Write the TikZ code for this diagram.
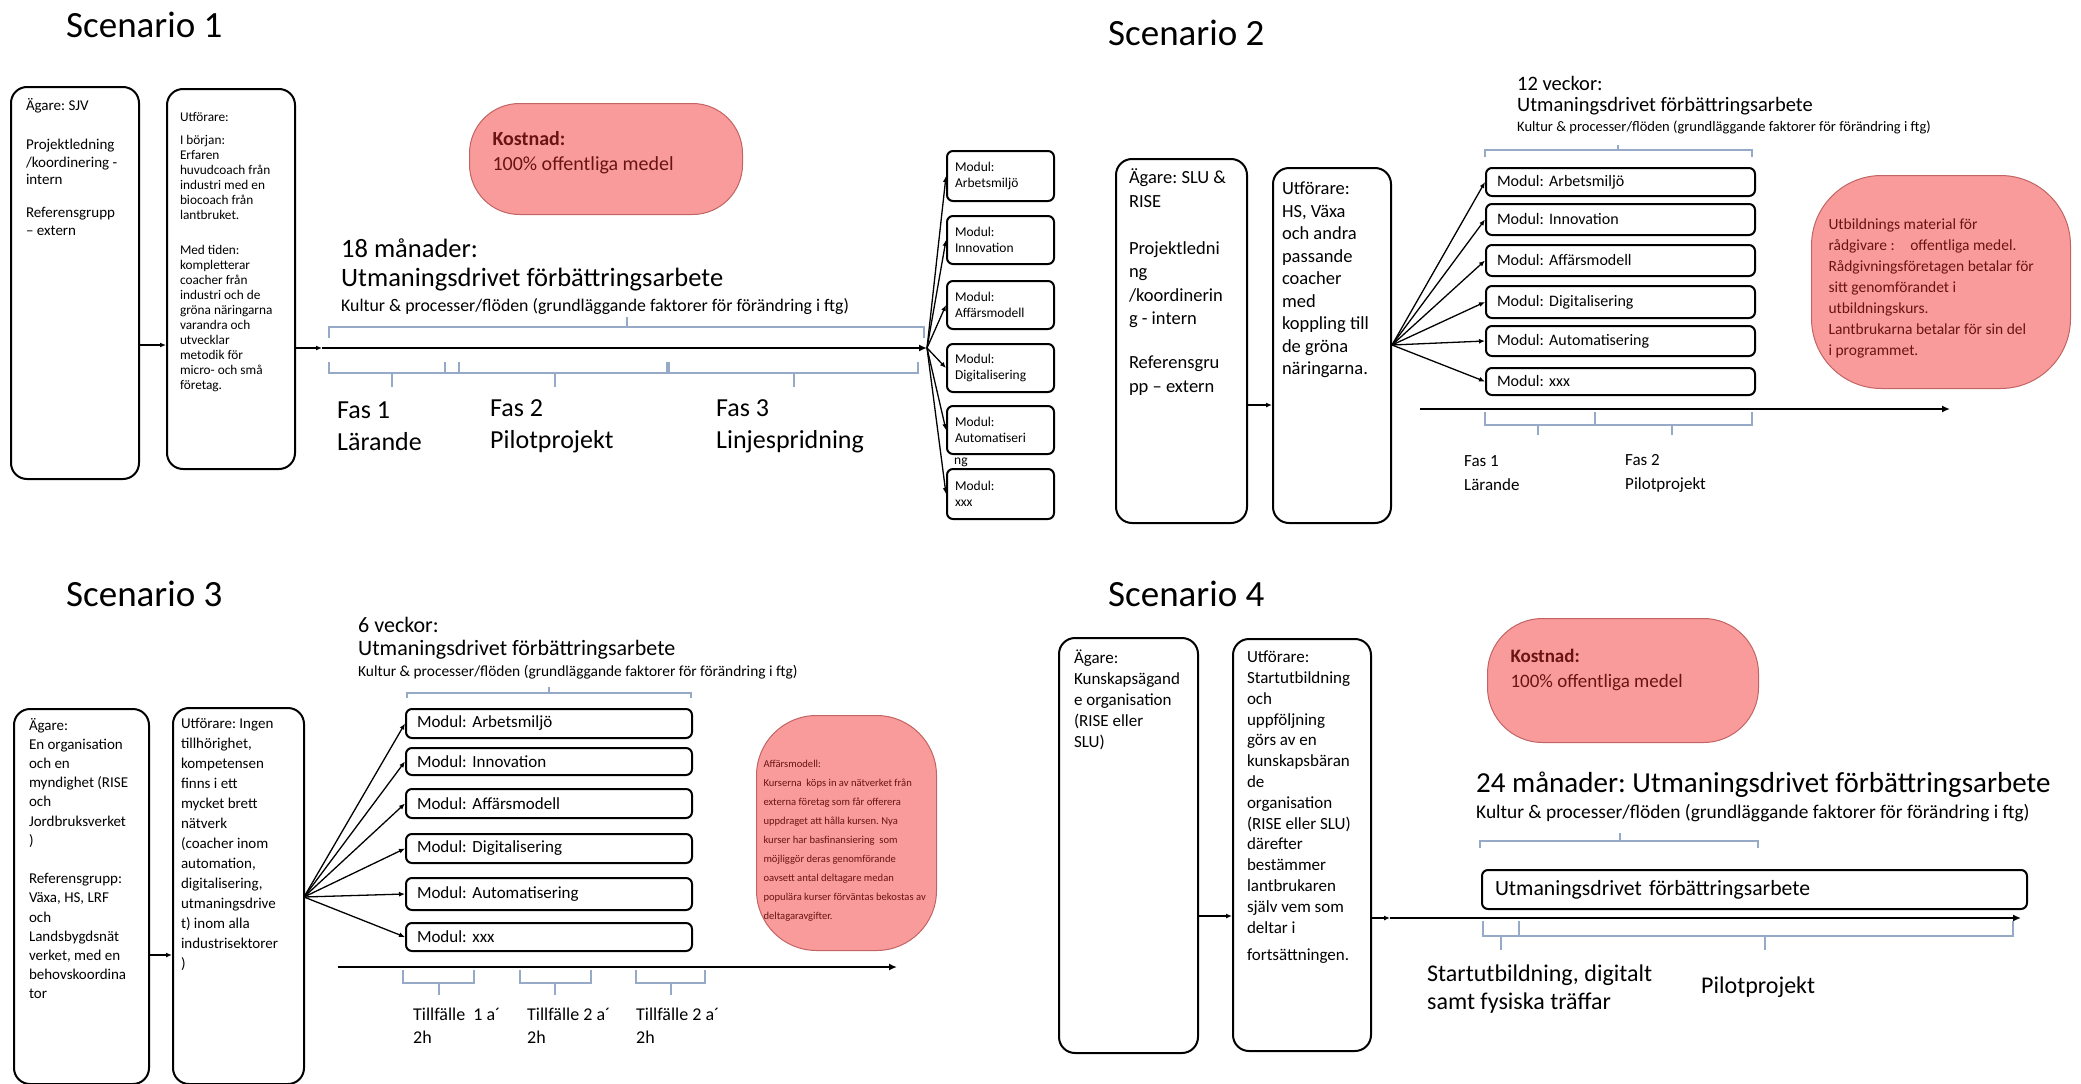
\documentclass[tikz,border=0pt]{standalone}
\usepackage{fontspec}
\setmainfont{Carlito}
\usetikzlibrary{arrows.meta}
\frenchspacing

\definecolor{pillfill}{RGB}{250,155,155}
\definecolor{pillline}{RGB}{195,100,100}
\definecolor{pilltext}{RGB}{105,20,20}
\definecolor{brackblue}{RGB}{150,170,200}

\newcommand{\fs}[2]{\fontsize{#1}{#2}\selectfont}
\newcommand{\boxtext}[3]{\parbox[t][#2pt][t]{#1pt}{\raggedright #3}}

\tikzset{
    scen/.style={anchor=base west, inner sep=0pt, font=\fs{37}{44}},
    lbl/.style={anchor=west, inner sep=0pt, align=left},
    bigbox/.style={draw, line width=2pt, rounded corners=16pt, anchor=north west},
    modbox/.style={draw, line width=2pt, rounded corners=6pt, anchor=north west,
        align=left, inner ysep=0pt},
    costpill/.style={draw=pillline, line width=1pt, fill=pillfill, text=pilltext,
        anchor=north west},
    brack/.style={draw=brackblue, line width=1.1pt},
    tline/.style={line width=2.2pt, -{Latex[length=8pt,width=7pt]}},
    link/.style={line width=1.3pt, -{Latex[length=6pt,width=5pt]}},
    }

\begin{document}
\begin{tikzpicture}[x=1pt, y=-1pt]
\fill[white] (0,0) rectangle (2081,1084);
\useasboundingbox (0,0) rectangle (2081,1084);

% Scenario 1
\node[scen] (s1title) at (66,37) {Scenario 1};
\node[bigbox, font=\fs{15}{17.5}, inner xsep=15pt, inner ysep=11pt] (s1own) at (10,86)
    {\boxtext{98}{370}{Ägare: SJV\\[22pt] Projektledning\\ /koordinering -\\ intern\\[15.5pt]
     Referensgrupp\\ – extern}};
\node[bigbox, font=\fs{13.3}{15}, inner xsep=13pt, inner ysep=23pt] (s1exe) at (166,88)
    {\boxtext{102}{334}{Utförare:\\[8pt] I början:\\ Erfaren\\ huvudcoach från\\ industri med en\\
     biocoach från\\ lantbruket.\\[20pt] Med tiden:\\ kompletterar\\ coacher från\\ industri och de\\
     gröna näringarna\\ varandra och\\ utvecklar\\ metodik för\\ micro- och små\\ företag.}};
\node[costpill, rounded corners=50pt, font=\fs{20}{25}, inner xsep=23pt, inner ysep=28pt] (s1cost) at (469,103)
    {\boxtext{227}{55}{\textbf{Kostnad:}\\ 100\% offentliga medel}};
\node[lbl, font=\fs{26.5}{32}] (s1dur) at (341,248) {18 månader:};
\node[lbl, font=\fs{26.5}{32}] (s1work) at (341,280) {Utmaningsdrivet förbättringsarbete};
\node[lbl, font=\fs{17.8}{22}] (s1sub) at (341,307) {Kultur \& processer/flöden (grundläggande faktorer för förändring i ftg)};
\foreach \i/\yy/\hh/\lab in {1/150/50/Arbetsmiljö,2/215/48/Innovation,3/280/48/Affärsmodell,
        4/343/48/Digitalisering,5/405/48/Automatiseri,6/468/50/xxx}
    \node[modbox, font=\fs{13.5}{16}, text width=91pt, inner xsep=8pt, minimum height=\hh pt] (s1m\i) at (946,\yy) {Modul:\\\lab};
\node[lbl, font=\fs{13.5}{16}] (s1m5b) at ([xshift=8pt,yshift=-7pt]s1m5.south west) {ng};
\coordinate (s1lvl) at (0,345);
\coordinate (s1t0) at (322,348);
\coordinate (s1t1) at (927,348);
\draw[link] (s1own.east |- s1lvl) -- (s1exe.west |- s1lvl);
\draw[link] (s1exe.east |- s1t0) -- (s1t0);
\draw[tline] (s1t0) -- (s1t1);
\foreach \i in {1,...,6}
    \draw[link] (s1t1) -- (s1m\i.west);
\draw[brack] (329,338) -- (329,327) -- (924,327) -- (924,338) (627,327) -- (627,317);
\foreach \xa/\xb/\xm in {329/459/392,445/667/555,669/918/794}
    \draw[brack] (\xa,362) -- (\xa,373) -- (\xb,373) -- (\xb,362) (\xm,373) -- (\xm,387);
\node[lbl, font=\fs{26}{32}] (s1f1) at (337,426) {Fas 1\\Lärande};
\node[lbl, font=\fs{26}{32}] (s1f2) at (490,426) {Fas 2\\Pilotprojekt};
\node[lbl, font=\fs{26}{32}] (s1f3) at (716,426) {Fas 3\\Linjespridning};

% Scenario 2
\node[scen] (s2title) at (1108,45) {Scenario 2};
\node[bigbox, font=\fs{18.5}{23.5}, inner xsep=13pt, inner ysep=10pt] (s2own) at (1115,158)
    {\boxtext{105}{344}{Ägare: SLU \&\\ RISE\\[23.5pt] Projektledni\\ ng\\ /koordinerin\\ g - intern\\[20.5pt]
     Referensgru\\ pp – extern}};
\node[bigbox, font=\fs{18.5}{22.5}, inner xsep=9pt, inner ysep=14pt] (s2exe) at (1272,167)
    {\boxtext{100}{327}{Utförare:\\ HS, Växa\\ och andra\\ passande\\ coacher\\ med\\ koppling till\\
     de gröna\\ näringarna.}};
\node[lbl, font=\fs{20.5}{25}] (s2dur) at (1517,83) {12 veckor:};
\node[lbl, font=\fs{20.5}{25}] (s2work) at (1517,106) {Utmaningsdrivet förbättringsarbete};
\node[lbl, font=\fs{14.5}{18}] (s2sub) at (1517,127) {Kultur \& processer/flöden (grundläggande faktorer för förändring i ftg)};
\foreach \i/\yy/\hh/\lab in {1/167/28/Arbetsmiljö,2/203/31/Innovation,3/244/31/Affärsmodell,
        4/285/32/Digitalisering,5/325/30/Automatisering,6/367/27/xxx}
    \node[modbox, font=\fs{16}{19}, text width=247pt, inner xsep=11pt, minimum height=\hh pt] (s2m\i) at (1485,\yy) {Modul: \lab};
\node[costpill, rounded corners=70pt, font=\fs{15.5}{21}, inner xsep=17pt, inner ysep=43pt] (s2cost) at (1811,175)
    {\boxtext{225}{127}{Utbildnings material för\\ rådgivare :\quad offentliga medel.\\ Rådgivningsföretagen betalar för\\
     sitt genomförandet i\\ utbildningskurs.\\ Lantbrukarna betalar för sin del\\ i programmet.}};
\coordinate (s2lvl) at (0,405);
\coordinate (s2fan) at (1392,345);
\coordinate (s2t0) at (1420,409);
\coordinate (s2t1) at (1950,409);
\draw[link] (s2own.east |- s2lvl) -- (s2exe.west |- s2lvl);
\foreach \i in {1,...,6}
    \draw[link] (s2fan) -- (s2m\i.west);
\draw[tline] (s2t0) -- (s2t1);
\draw[brack] (1485,157) -- (1485,150) -- (1752,150) -- (1752,157) (1618,150) -- (1618,145);
\foreach \xa/\xb/\xm in {1485/1595/1538,1595/1752/1672}
    \draw[brack] (\xa,412) -- (\xa,425) -- (\xb,425) -- (\xb,412) (\xm,425) -- (\xm,435);
\node[lbl, font=\fs{17}{24}] (s2f1) at (1464,473) {Fas 1\\Lärande};
\node[lbl, font=\fs{17}{24}] (s2f2) at (1625,473) {Fas 2\\Pilotprojekt};

% Scenario 3
\node[scen] (s3title) at (66,606) {Scenario 3};
\node[bigbox, font=\fs{15}{19.2}, inner xsep=15pt, inner ysep=9pt] (s3own) at (13,708)
    {\boxtext{105}{357}{Ägare:\\ En organisation\\ och en\\ myndighet (RISE\\ och\\ Jordbruksverket\\ )\\[19.2pt]
     Referensgrupp:\\ Växa, HS, LRF\\ och\\ Landsbygdsnät\\ verket, med en\\ behovskoordina\\ tor}};
\node[bigbox, font=\fs{15}{20}, inner xsep=8pt, inner ysep=10.5pt] (s3exe) at (172,707)
    {\boxtext{115}{355}{Utförare: Ingen\\ tillhörighet,\\ kompetensen\\ finns i ett\\ mycket brett\\ nätverk\\
     (coacher inom\\ automation,\\ digitalisering,\\ utmaningsdrive\\ t) inom alla\\ industrisektorer\\ )}};
\node[lbl, font=\fs{22}{26}] (s3dur) at (358,625) {6 veckor:};
\node[lbl, font=\fs{22}{26}] (s3work) at (358,650) {Utmaningsdrivet förbättringsarbete};
\node[lbl, font=\fs{15.4}{19}] (s3sub) at (358,672) {Kultur \& processer/flöden (grundläggande faktorer för förändring i ftg)};
\foreach \i/\yy/\hh/\lab in {1/708/29/Arbetsmiljö,2/747/27/Innovation,3/788/29/Affärsmodell,
        4/833/29/Digitalisering,5/877/32/Automatisering,6/922/28/xxx}
    \node[modbox, font=\fs{17}{20}, text width=264pt, inner xsep=11pt, minimum height=\hh pt] (s3m\i) at (405,\yy) {Modul: \lab};
\node[costpill, rounded corners=60pt, font=\fs{10.6}{19}, inner xsep=7pt, inner ysep=45pt] (s3cost) at (756,715)
    {\boxtext{166}{145}{Affärsmodell:\\ Kurserna\ \ köps in av nätverket från\\ externa företag som får offerera\\
     uppdraget att hålla kursen. Nya\\ kurser har basfinansiering\ \ som\\ möjliggör deras genomförande\\
     oavsett antal deltagare medan\\ populära kurser förväntas bekostas av\\ deltagaravgifter.}};
\coordinate (s3lvl) at (0,955);
\coordinate (s3fan) at (304,897);
\coordinate (s3t0) at (338,967);
\coordinate (s3t1) at (897,967);
\draw[link] (s3own.east |- s3lvl) -- (s3exe.west |- s3lvl);
\foreach \i in {1,...,6}
    \draw[link] (s3fan) -- (s3m\i.west);
\draw[tline] (s3t0) -- (s3t1);
\draw[brack] (407,698) -- (407,693) -- (691,693) -- (691,698) (549,693) -- (549,687);
\foreach \xa/\xb/\xm in {403/474/439,520/591/555,636/705/671}
    \draw[brack] (\xa,970) -- (\xa,983) -- (\xb,983) -- (\xb,970) (\xm,983) -- (\xm,995);
\node[lbl, font=\fs{18}{23}] (s3f1) at (413,1026) {Tillfälle\ \ 1 a´\\2h};
\node[lbl, font=\fs{18}{23}] (s3f2) at (527,1026) {Tillfälle 2 a´\\2h};
\node[lbl, font=\fs{18}{23}] (s3f3) at (636,1026) {Tillfälle 2 a´\\2h};

% Scenario 4
\node[scen] (s4title) at (1108,606) {Scenario 4};
\node[bigbox, font=\fs{17}{21}, inner xsep=15pt, inner ysep=12pt] (s4own) at (1058,637)
    {\boxtext{109}{391}{Ägare:\\ Kunskapsägand\\ e organisation\\ (RISE eller\\ SLU)}};
\node[bigbox, font=\fs{17}{20.8}, inner xsep=14pt, inner ysep=12pt] (s4exe) at (1232,638)
    {\boxtext{110}{388}{Utförare:\\ Startutbildning\\ och\\ uppföljning\\ görs av en\\ kunskapsbäran\\ de\\
     organisation\\ (RISE eller SLU)\\ därefter\\ bestämmer\\ lantbrukaren\\ själv vem som\\ deltar i\\[7pt]
     fortsättningen.}};
\node[costpill, rounded corners=55pt, font=\fs{19}{25}, inner xsep=23pt, inner ysep=31pt] (s4cost) at (1487,618)
    {\boxtext{225}{62}{\textbf{Kostnad:}\\ 100\% offentliga medel}};
\node[lbl, font=\fs{29}{34}] (s4work) at (1476,785) {24 månader: Utmaningsdrivet förbättringsarbete};
\node[lbl, font=\fs{19.4}{23}] (s4sub) at (1476,813) {Kultur \& processer/flöden (grundläggande faktorer för förändring i ftg)};
\node[modbox, font=\fs{21.7}{26}, text width=519pt, inner xsep=13pt, minimum height=39pt] (s4box) at (1481,869)
    {Utmaningsdrivet förbättringsarbete};
\coordinate (s4lvl) at (0,916);
\coordinate (s4t0) at (1390,918);
\coordinate (s4t1) at (2021,918);
\draw[link] (s4own.east |- s4lvl) -- (s4exe.west |- s4lvl);
\draw[link] (s4exe.east |- s4t0) -- (s4t0);
\draw[tline] (s4t0) -- (s4t1);
\draw[brack] (1480,848) -- (1480,841) -- (1758,841) -- (1758,848) (1620,841) -- (1620,833);
\foreach \xa/\xb/\xm in {1483/1519/1501,1519/2013/1765}
    \draw[brack] (\xa,921) -- (\xa,936) -- (\xb,936) -- (\xb,921) (\xm,936) -- (\xm,950);
\node[lbl, font=\fs{24}{28}] (s4f1) at (1427,989) {Startutbildning, digitalt\\samt fysiska träffar};
\node[lbl, font=\fs{24}{28}] (s4f2) at (1701,987) {Pilotprojekt};
\end{tikzpicture}
\end{document}
